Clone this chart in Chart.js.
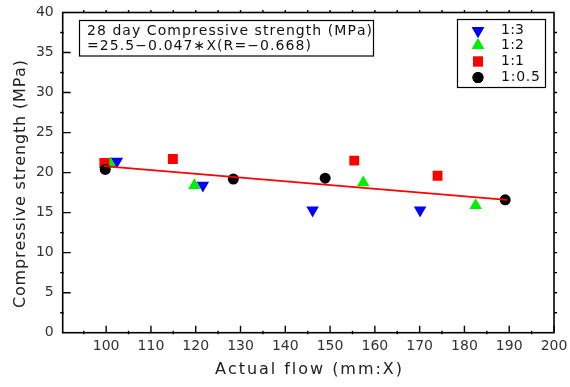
<!DOCTYPE html>
<html><head><meta charset="utf-8">
<script src="https://cdn.jsdelivr.net/npm/chart.js@4/dist/chart.umd.min.js"></script>
<style>html,body{margin:0;padding:0;background:#fff;}</style>
</head><body>
<canvas id="c" width="570" height="387"></canvas>
<script>
// ---- data ----
const seriesNames = ['1:3', '1:2', '1:1', '1:0.5'];
const flow13 = [102.4, 121.6, 146.1, 170.1];
const str13  = [21.4, 18.4, 15.3, 15.3];
const flow12 = [100.9, 119.7, 157.4, 182.5];
const str12  = [21.1, 18.4, 18.75, 15.9];
const flow11 = [99.6, 114.9, 155.4, 174.0];
const str11  = [21.2, 21.7, 21.5, 19.6];
const flow105 = [99.8, 128.4, 148.9, 189.1];
const str105  = [20.4, 19.2, 19.3, 16.6];
const fitFlow = [99.5, 189.5];
const fitStr  = [20.82, 16.59];
const xTicks = [100, 110, 120, 130, 140, 150, 160, 170, 180, 190, 200];
const yTicks = [0, 5, 10, 15, 20, 25, 30, 35, 40];
const fitText = ['28 day Compressive strength (MPa)', '=25.5\u22120.047\u2217X(R=\u22120.668)'];
const xTitle = 'Actual flow (mm:X)';
const yTitle = 'Compressive strength (MPa)';

const FONT = "'DejaVu Sans', sans-serif";
const pts = (xs, ys) => xs.map((v, i) => ({x: v, y: ys[i]}));

const styles = [
  {color: '#0000ff', pointStyle: 'triangle', rotation: 180, radius: 7.2},
  {color: '#00ee00', pointStyle: 'triangle', rotation: 0, radius: 7.2},
  {color: '#ff0000', pointStyle: 'rect', rotation: 0, radius: 7},
  {color: '#000000', pointStyle: 'circle', rotation: 0, radius: 5.5}
];
const seriesData = [pts(flow13, str13), pts(flow12, str12), pts(flow11, str11), pts(flow105, str105)];

function spacedText(ctx, text, x, y, width) {
  const chars = [...text];
  const ws = chars.map(c => ctx.measureText(c).width);
  const total = ws.reduce((a, b) => a + b, 0);
  const gap = chars.length > 1 ? (width - total) / (chars.length - 1) : 0;
  let cx = x;
  chars.forEach((c, i) => { ctx.fillText(c, cx, y); cx += ws[i] + gap; });
}

const decor = {
  id: 'decor',
  afterDraw(chart) {
    const {ctx, chartArea: {left, right, top, bottom}, scales: {x, y}} = chart;
    ctx.save();
    ctx.strokeStyle = '#000';
    ctx.lineWidth = 1.6;
    ctx.strokeRect(left, top, right - left, bottom - top);
    ctx.lineWidth = 1.4;
    ctx.beginPath();
    xTicks.forEach(v => {
      const px = x.getPixelForValue(v);
      ctx.moveTo(px, bottom); ctx.lineTo(px, bottom - 7);
    });
    for (let v = 95; v < 200; v += 10) {
      const px = x.getPixelForValue(v);
      ctx.moveTo(px, bottom + 1.5); ctx.lineTo(px, bottom - 2);
    }
    for (let v = 95; v < 200; v += 5) {
      const px = x.getPixelForValue(v);
      ctx.moveTo(px, top); ctx.lineTo(px, top - 2.5);
    }
    yTicks.forEach(v => {
      if (v === 0 || v === 40) return;
      const py = y.getPixelForValue(v);
      ctx.moveTo(left, py); ctx.lineTo(left + 8, py);
    });
    for (let v = 2.5; v < 40; v += 5) {
      const py = y.getPixelForValue(v);
      ctx.moveTo(left - 2.5, py); ctx.lineTo(left + 1, py);
    }
    for (let v = 2.5; v < 40; v += 2.5) {
      const py = y.getPixelForValue(v);
      ctx.moveTo(right, py); ctx.lineTo(right + 3, py);
    }
    ctx.stroke();

    // axis titles
    ctx.fillStyle = '#222';
    ctx.font = '16px ' + FONT;
    ctx.textBaseline = 'middle';
    ctx.textAlign = 'left';
    spacedText(ctx, xTitle, 215, 370, 187);
    ctx.save();
    ctx.translate(20.7, 308);
    ctx.rotate(-Math.PI / 2);
    spacedText(ctx, yTitle, 0, 0, 248);
    ctx.restore();

    // fit equation box
    ctx.lineWidth = 1.2;
    ctx.strokeRect(79.5, 20.5, 294, 35.5);
    ctx.fillStyle = '#111';
    ctx.font = '14px ' + FONT;
    spacedText(ctx, fitText[0], 87, 31, 285);
    spacedText(ctx, fitText[1], 87, 46.5, 224);

    // legend
    ctx.strokeRect(457.5, 19.5, 88, 68);
    const rowY = [30.7, 45.5, 61.5, 77.5];
    const widths = [23, 23, 23, 39];
    seriesNames.forEach((name, i) => {
      const s = styles[i];
      ctx.fillStyle = s.color;
      Chart.helpers.drawPoint(ctx, {pointStyle: s.pointStyle, rotation: s.rotation, radius: s.radius, borderWidth: 0}, 478, rowY[i]);
      ctx.fill();
      ctx.fillStyle = '#111';
      spacedText(ctx, name, 501, rowY[i], widths[i]);
    });
    ctx.restore();
  }
};

const datasets = [
  {
    type: 'line', label: 'fit', data: pts(fitFlow, fitStr),
    borderColor: '#ff0000', borderWidth: 1.8, pointRadius: 0, fill: false, order: 0
  }
].concat(seriesData.map((d, i) => ({
  type: 'scatter', label: seriesNames[i], data: d,
  pointStyle: styles[i].pointStyle, rotation: styles[i].rotation,
  pointRadius: styles[i].radius, pointHoverRadius: styles[i].radius,
  backgroundColor: styles[i].color, borderColor: styles[i].color, borderWidth: 0,
  order: 4 - i
})));

new Chart(document.getElementById('c'), {
  data: {datasets},
  plugins: [decor],
  options: {
    responsive: false,
    animation: false,
    devicePixelRatio: 1,
    layout: {padding: {top: 12.5, right: 16, left: 0, bottom: 0}},
    plugins: {legend: {display: false}, tooltip: {enabled: false}},
    scales: {
      x: {
        type: 'linear', min: 90.3, max: 200,
        afterBuildTicks: s => { s.ticks = xTicks.map(v => ({value: v})); },
        afterFit: s => { s.height = 54.3; s.paddingLeft = 0; s.paddingRight = 0; s.paddingTop = 0; s.paddingBottom = 0; },
        grid: {display: false, drawTicks: false},
        border: {display: false},
        ticks: {color: '#333', font: {family: FONT, size: 14}, padding: 5, maxRotation: 0, autoSkip: false},
        title: {display: false}
      },
      y: {
        type: 'linear', min: 0, max: 40,
        afterBuildTicks: s => { s.ticks = yTicks.map(v => ({value: v})); },
        afterFit: s => { s.width = 62.7; s.paddingLeft = 0; s.paddingRight = 0; s.paddingTop = 0; s.paddingBottom = 0; },
        grid: {display: false, drawTicks: false},
        border: {display: false},
        ticks: {color: '#333', font: {family: FONT, size: 14}, padding: 9},
        title: {display: false}
      }
    }
  }
});
</script>
</body></html>
